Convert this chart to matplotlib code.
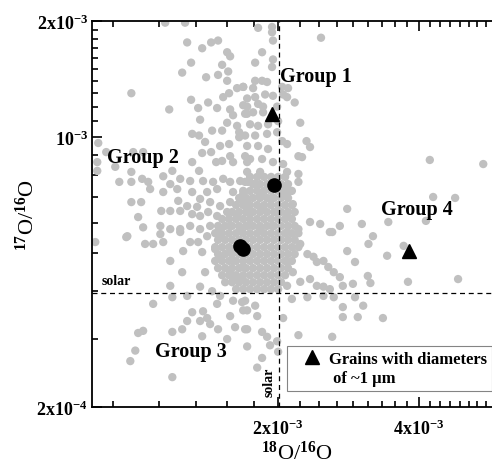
import matplotlib
matplotlib.use("Agg")
import matplotlib.pyplot as plt
from matplotlib.lines import Line2D
from matplotlib.ticker import NullFormatter
import numpy as np

plt.rcParams['font.family'] = ['Liberation Serif', 'DejaVu Serif']
plt.rcParams['font.weight'] = 'bold'
plt.rcParams['mathtext.fontset'] = 'custom'
plt.rcParams['mathtext.rm'] = 'Liberation Serif:bold'
plt.rcParams['mathtext.it'] = 'Liberation Serif:bold'
plt.rcParams['mathtext.bf'] = 'Liberation Serif:bold'

# grains: 18O/16O in units of 1e-3, 17O/16O in units of 1e-4
grain_o18 = [
    1.147, 1.265, 1.278, 1.438, 1.488, 1.376, 1.556, 1.579, 1.303, 1.518,
    1.247, 1.403, 1.488, 1.564, 1.556, 1.634, 1.684, 0.971, 1.571, 1.526,
    1.303, 1.417, 1.684, 1.170, 1.349, 1.481, 1.579, 1.602, 1.717, 1.362,
    1.634, 1.556, 1.310, 1.355, 1.445, 1.518, 1.651, 1.651, 1.396, 1.503,
    1.571, 1.717, 0.825, 0.821, 0.821, 0.858, 0.897, 0.980, 1.029, 1.310,
    1.376, 1.438, 1.474, 1.518, 1.579, 1.602, 1.700, 1.717, 1.188, 1.136,
    0.971, 0.915, 0.971, 1.024, 1.055, 1.065, 1.176, 1.235, 1.297, 1.355,
    1.382, 1.452, 1.526, 1.579, 1.659, 1.725, 0.971, 1.019, 1.136, 1.217,
    1.310, 1.362, 1.410, 1.481, 1.602, 1.684, 1.223, 1.278, 1.342, 1.431,
    1.503, 1.579, 1.659, 1.717, 1.004, 1.125, 1.176, 1.235, 1.310, 1.362,
    1.417, 1.481, 1.556, 1.634, 1.717, 1.029, 1.120, 1.176, 1.235, 1.297,
    1.362, 1.431, 1.503, 1.579, 1.659, 0.952, 1.120,
    1.812, 1.941, 1.941, 1.950, 2.47, 1.786, 1.848, 1.950, 1.941, 1.786,
    1.848, 1.684, 1.768, 1.894, 2.04, 2.10, 1.717, 1.786, 1.876, 1.950,
    2.05, 2.09, 2.17, 1.717, 1.812, 1.857, 1.99, 1.700, 1.768, 1.857,
    1.742, 1.812, 1.903, 2.00, 2.23, 1.700, 1.786, 1.894, 1.99, 2.04,
    2.09, 2.30, 2.34, 1.812, 1.903, 2.21, 2.25, 4.22, 5.49, 1.742,
    1.848, 1.950, 2.05, 1.717, 1.830, 2.09, 2.21, 2.21, 1.700, 1.786,
    2.07, 1.717, 1.830, 1.922, 2.05, 2.12, 2.15, 2.81, 4.29, 4.78,
    1.742, 1.857, 1.99, 2.09, 2.34, 2.46, 2.71, 3.02, 3.44, 4.14,
    2.58, 3.19, 1.717, 1.830, 1.950, 2.09, 2.21,
    0.813, 0.947, 1.039, 1.081, 1.136, 1.235, 1.253, 1.297, 1.349, 1.410,
    1.176, 1.247, 1.376, 1.396, 1.467, 1.503, 1.503, 1.579, 1.602, 1.717,
    1.579, 1.602, 1.684, 1.675, 1.176, 1.362, 1.445, 1.503, 1.278, 1.188,
    1.081, 1.310, 1.382, 1.410, 1.481, 1.602, 1.675, 1.579, 1.717, 1.278,
    1.362, 1.431, 1.488, 1.247, 1.188, 1.004, 1.029, 1.376, 1.556, 1.618,
    1.717, 1.717, 0.990, 0.966, 1.188,
    2.61, 3.12, 3.71, 3.42, 2.81, 2.23, 2.31, 2.38, 2.42, 2.50,
    2.56, 2.92, 2.63, 2.71, 3.11, 3.15, 3.79, 4.85, 2.89, 2.75,
    2.09, 2.15, 2.23, 2.34, 2.42, 2.50, 2.58, 2.09, 2.14, 2.31,
    2.50, 2.63, 2.92, 3.04, 2.75, 2.75, 2.96, 3.35, 2.05, 2.21,
    2.61, 1.700, 1.786, 1.684, 1.804, 1.700, 1.848, 1.894, 1.848, 1.99,
    2.00, 1.804, 1.922,
]
grain_o17 = [
    19.8, 19.8, 17.6, 17.6, 17.8, 17.0, 16.6, 16.2, 15.6, 15.4,
    14.7, 14.3, 14.5, 14.8, 14.0, 13.4, 13.5, 13.0, 13.0, 12.7,
    12.5, 12.3, 12.1, 11.8, 11.9, 11.9, 11.8, 11.4, 11.5, 11.1,
    10.7, 10.9, 10.2, 10.1, 10.4, 10.4, 10.3, 10.0, 9.72, 9.49,
    9.60, 9.49, 9.66, 8.62, 8.18, 9.15, 8.38, 9.15, 9.15, 8.62,
    9.10, 9.15, 8.62, 8.68, 8.93, 8.62, 8.93, 8.62, 8.18, 7.92,
    8.13, 7.66, 7.66, 7.80, 7.66, 7.34, 7.56, 7.80, 7.70, 8.18,
    7.70, 7.66, 7.80, 7.66, 7.70, 7.66, 6.79, 6.79, 7.21, 7.34,
    7.21, 6.92, 7.21, 7.34, 7.21, 7.13, 6.84, 6.63, 6.60, 6.79,
    6.63, 6.79, 6.92, 6.71, 6.21, 6.44, 6.44, 6.44, 6.32, 6.25,
    6.40, 6.25, 6.40, 6.25, 6.40, 5.84, 5.89, 5.78, 5.78, 5.89,
    5.78, 5.89, 5.78, 5.89, 5.78, 5.54, 5.61,
    19.2, 19.3, 18.7, 17.8, 18.1, 15.6, 16.6, 15.9, 15.2, 14.0,
    14.0, 13.5, 13.4, 13.9, 13.5, 13.4, 12.6, 12.7, 12.9, 12.8,
    12.9, 12.7, 12.3, 12.0, 12.2, 12.0, 12.0, 11.5, 11.6, 11.6,
    10.8, 10.7, 10.8, 11.0, 10.9, 10.1, 10.1, 10.2, 10.3, 9.77,
    9.60, 9.77, 9.43, 9.49, 9.32, 8.93, 8.88, 8.73, 8.52, 8.78,
    8.78, 8.62, 8.52, 8.13, 8.13, 8.13, 8.03, 7.66, 7.66, 7.56,
    7.47, 6.92, 7.04, 6.92, 7.04, 7.26, 6.71, 6.52, 7.00, 6.96,
    6.40, 6.52, 6.40, 6.32, 6.03, 5.96, 5.89, 5.96, 6.03, 6.07,
    5.68, 5.54, 5.89, 5.78, 5.89, 5.68, 5.78,
    5.35, 5.51, 5.29, 5.29, 5.35, 5.68, 5.07, 5.35, 5.35, 5.54,
    4.78, 4.47, 5.04, 4.47, 5.13, 4.90, 5.51, 5.04, 4.78, 5.04,
    4.47, 4.29, 4.61, 4.29, 4.12, 4.10, 3.99, 3.88, 3.88, 3.85,
    3.70, 3.52, 3.54, 3.40, 3.70, 3.77, 3.74, 3.44, 3.56, 3.34,
    3.34, 3.28, 3.18, 3.18, 3.13, 3.11, 3.15, 3.05, 3.00, 3.22,
    3.18, 2.87, 2.80, 2.63, 2.39,
    5.68, 5.29, 5.23, 4.93, 5.07, 5.29, 4.98, 4.90, 4.75, 4.78,
    4.61, 4.75, 4.47, 4.34, 4.37, 4.19, 4.22, 4.29, 4.17, 4.12,
    4.75, 4.47, 4.22, 4.29, 4.12, 4.10, 4.04, 4.12, 3.81, 3.85,
    3.88, 3.85, 3.85, 3.66, 3.63, 3.42, 3.42, 3.40, 3.40, 3.07,
    3.04, 3.77, 3.66, 3.56, 3.44, 3.18, 3.13, 3.04, 2.68, 2.96,
    2.78, 2.53, 2.89,
]

# dense cluster near solar, read row by row (17O/16O of each row, 18O/16O of its grains)
core_o17 = [7.89, 7.56, 7.26, 6.96, 6.67, 6.40, 6.14, 5.89, 5.64,
            5.42, 5.19, 4.98, 4.78, 4.58, 4.39, 4.21, 4.04]
core_o18 = [
    [1.742, 1.804, 1.867, 1.932, 2.00, 2.07],
    [1.768, 1.830, 1.894, 1.961, 2.03, 2.10],
    [1.684, 1.742, 1.804, 1.867, 1.932, 2.00, 2.07, 2.14],
    [1.651, 1.708, 1.768, 1.830, 1.894, 1.961, 2.03, 2.10],
    [1.626, 1.684, 1.742, 1.804, 1.867, 1.932, 2.00, 2.07, 2.14],
    [1.595, 1.651, 1.708, 1.768, 1.830, 1.894, 1.961, 2.03, 2.10, 2.17],
    [1.518, 1.571, 1.626, 1.684, 1.742, 1.804, 1.867, 1.932, 2.00, 2.07, 2.14],
    [1.488, 1.541, 1.595, 1.651, 1.708, 1.768, 1.830, 1.894, 1.961, 2.03, 2.10, 2.17],
    [1.467, 1.518, 1.571, 1.626, 1.684, 1.742, 1.804, 1.867, 1.932, 2.00, 2.07, 2.14, 2.21],
    [1.488, 1.541, 1.595, 1.651, 1.708, 1.768, 1.830, 1.894, 1.961, 2.03, 2.10, 2.17],
    [1.467, 1.518, 1.571, 1.626, 1.684, 1.742, 1.804, 1.867, 1.932, 2.00, 2.07, 2.14, 2.21],
    [1.488, 1.541, 1.595, 1.651, 1.708, 1.768, 1.830, 1.894, 1.961, 2.03, 2.10, 2.17],
    [1.467, 1.518, 1.571, 1.626, 1.684, 1.742, 1.804, 1.867, 1.932, 2.00, 2.07, 2.14],
    [1.488, 1.541, 1.595, 1.651, 1.708, 1.768, 1.830, 1.894, 1.961, 2.03, 2.10],
    [1.518, 1.571, 1.626, 1.684, 1.742, 1.804, 1.867, 1.932, 2.00, 2.07],
    [1.541, 1.595, 1.651, 1.708, 1.768, 1.830, 1.894, 1.961, 2.03],
    [1.626, 1.684, 1.742, 1.804, 1.867, 1.932, 2.00],
]

# ~1 um grains
tri_o18 = [1.94, 3.80]
tri_o17 = [11.48, 5.06]
circ_o18 = [1.96, 1.66, 1.68]
circ_o17 = [7.53, 5.23, 5.13]

solar_o18 = 2.005e-3
solar_o17 = 3.95e-4

x_major = [2e-3, 4e-3]
x_labels = ['2x10$^{-3}$', '4x10$^{-3}$']
y_major = [2e-4, 1e-3, 2e-3]
y_labels = ['2x10$^{-4}$', '10$^{-3}$', '2x10$^{-3}$']

# build arrays
gx = np.array(grain_o18) * 1e-3
gy = np.array(grain_o17) * 1e-4
cx = np.concatenate([np.array(r) for r in core_o18]) * 1e-3
cy = np.concatenate([[v] * len(r) for v, r in zip(core_o17, core_o18)]) * 1e-4

fig = plt.figure(figsize=(4.92, 4.64), dpi=100)
ax = fig.add_axes([92 / 492, 56 / 464, 409.3 / 492, 386 / 464])
ax.set_xscale('log')
ax.set_yscale('log')
ax.set_xlim(0.8e-3, 6e-3)
ax.set_ylim(2e-4, 2e-3)

grey = '#c0c0c0'
ax.scatter(cx, cy, s=36, c=grey, edgecolors='none', zorder=2)
ax.scatter(gx, gy, s=36, c=grey, edgecolors='none', zorder=2)

ax.axhline(solar_o17, color='k', lw=0.9, ls=(0, (4, 3)), zorder=3)
ax.axvline(solar_o18, color='k', lw=0.9, ls=(0, (4, 3)), zorder=3)

ax.plot(np.array(circ_o18) * 1e-3, np.array(circ_o17) * 1e-4, 'o', color='k',
        markersize=9.5, zorder=4)
ax.plot(np.array(tri_o18) * 1e-3, np.array(tri_o17) * 1e-4, '^', color='k',
        markersize=10, zorder=4)

# labels
ax.text(0.838e-3, 4.25e-4, 'solar', fontsize=10, ha='left', va='center')
ax.text(1.915e-3, 2.33e-4, 'solar', fontsize=10, rotation=90, ha='center', va='center')
ax.text(2.02e-3, 14.4e-4, 'Group 1', fontsize=14.5, ha='left', va='center')
ax.text(0.862e-3, 8.88e-4, 'Group 2', fontsize=14.5, ha='left', va='center')
ax.text(1.092e-3, 2.80e-4, 'Group 3', fontsize=14.5, ha='left', va='center')
ax.text(3.32e-3, 6.52e-4, 'Group 4', fontsize=14.5, ha='left', va='center')

# ticks
ax.set_xticks(x_major, labels=x_labels)
ax.set_xticks([k * 2e-3 / 9 for k in range(4, 28) if k % 9 != 0], minor=True)
ax.set_yticks(y_major, labels=y_labels)
ax.set_yticks([k * 1e-4 for k in range(3, 20) if k != 10], minor=True)
ax.xaxis.set_minor_formatter(NullFormatter())
ax.yaxis.set_minor_formatter(NullFormatter())
ax.tick_params(which='both', direction='in', top=True, right=False, width=1.2)
ax.tick_params(which='major', length=7, labelsize=13)
ax.tick_params(which='minor', length=4.5)
ax.tick_params(axis='x', which='major', pad=8)
ax.tick_params(axis='y', which='major', pad=3)
for s in ax.spines.values():
    s.set_linewidth(1.3)
ax.spines['right'].set_visible(False)

ax.set_xlabel('$^{18}$O/$^{16}$O', fontsize=16, labelpad=2)
ax.set_ylabel('$^{17}$O/$^{16}$O', fontsize=16, labelpad=-2)

# legend
h1 = Line2D([], [], ls='none', marker='^', color='k', markersize=10)
h2 = Line2D([], [], ls='none')
leg = ax.legend([h1, h2], ['Grains with diameters', ' of ~1 μm'],
                loc='lower left', bbox_to_anchor=(287 / 492, (464 - 392) / 464),
                bbox_transform=fig.transFigure, prop={'size': 12, 'weight': 'bold'},
                frameon=True, fancybox=False, borderpad=0.3, labelspacing=0.2,
                handlelength=2.4, handletextpad=-0.2, borderaxespad=0)
leg.get_frame().set_edgecolor('#666666')
leg.get_frame().set_linewidth(0.8)
leg.set_zorder(5)

fig.savefig('out.png', dpi=100)
